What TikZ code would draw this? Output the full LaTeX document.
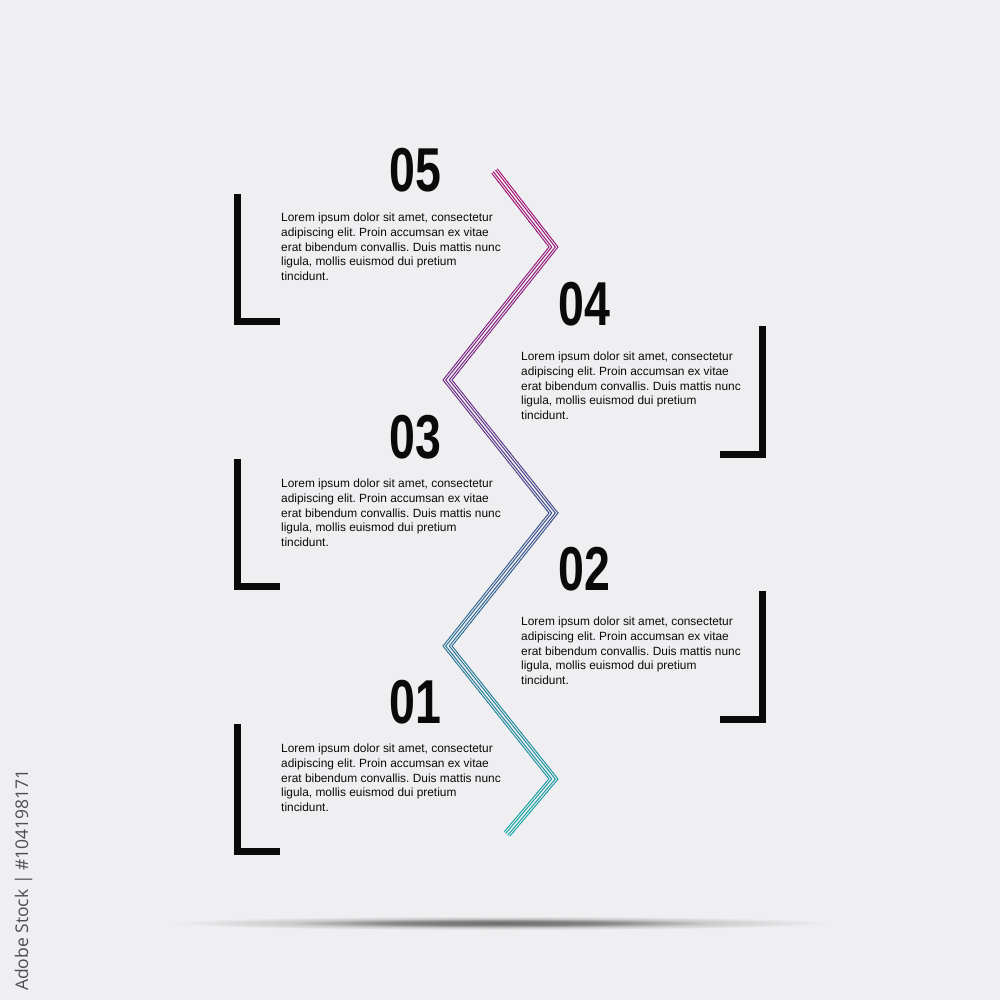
\documentclass[tikz,border=0pt]{standalone}
\usepackage{fontspec}
\setmainfont{Liberation Sans}
\newfontfamily\wmfont{Open Sans}
\frenchspacing
\definecolor{bgc}{RGB}{239,239,241}
\definecolor{ink}{RGB}{10,10,10}
\definecolor{wmgray}{RGB}{78,78,80}
\definecolor{zA}{RGB}{170,15,115}
\definecolor{zB}{RGB}{115,40,135}
\definecolor{zC}{RGB}{60,75,140}
\definecolor{zD}{RGB}{20,170,165}
\pgfdeclareradialshading{floorshadow}{\pgfpoint{0bp}{0bp}}{color(0bp)=(black!55!bgc); color(8bp)=(black!44!bgc); color(16bp)=(black!15!bgc); color(25bp)=(bgc); color(50bp)=(bgc)}
\tikzset{
  numlabel/.style={font=\fontsize{62}{62}\selectfont\bfseries, text=ink, xscale=0.75, anchor=base, inner sep=0pt},
  bodytext/.style={font=\fontsize{11.9}{14.75}\selectfont, text=ink, align=left, inner sep=0pt, anchor=north west},
  bracket/.style={draw=ink, line width=7pt, line join=miter, line cap=butt},
  zzline/.style={line join=miter, line cap=butt, miter limit=10},
}
\begin{document}
\begin{tikzpicture}[x=1pt,y=-1pt]
\fill[bgc] (0,0) rectangle (1000,1000);
\useasboundingbox (0,0) rectangle (1000,1000);

% floor shadow
\begin{scope}
  \clip (0,905) rectangle (1000,940);
  \shade[shading=floorshadow] (500,923) ellipse [x radius=330, y radius=7];
\end{scope}

% zigzag coordinates
\coordinate (z0) at (494.5,171);
\coordinate (z1) at (553.5,247);
\coordinate (z2) at (447.5,380);
\coordinate (z3) at (553.5,513);
\coordinate (z4) at (447.5,646);
\coordinate (z5) at (553.5,779);
\coordinate (z6) at (507,834);

% zigzag with vertical colour gradient (clipped bands)
\foreach \i in {0,...,68}{
  \pgfmathsetmacro{\ya}{162+10*\i}
  \pgfmathsetmacro{\ym}{\ya+5}
  \ifdim \ym pt<380pt
    \pgfmathsetmacro{\zp}{max(0,min(100,(\ym-170)/210*100))}
    \colorlet{zcol}{zB!\zp!zA}
  \else
    \ifdim \ym pt<513pt
      \pgfmathsetmacro{\zp}{(\ym-380)/133*100}
      \colorlet{zcol}{zC!\zp!zB}
    \else
      \pgfmathsetmacro{\zp}{max(0,min(100,(\ym-513)/321*100))}
      \colorlet{zcol}{zD!\zp!zC}
    \fi
  \fi
  \begin{scope}
    \clip (0,\ya) rectangle (1000,\ya+10.6);
    \draw[zzline, zcol, line width=8pt] (z0) -- (z1) -- (z2) -- (z3) -- (z4) -- (z5) -- (z6);
    \draw[zzline, bgc, line width=5.8pt] (z0) -- (z1) -- (z2) -- (z3) -- (z4) -- (z5) -- (z6);
    \draw[zzline, zcol, line width=3.8pt] (z0) -- (z1) -- (z2) -- (z3) -- (z4) -- (z5) -- (z6);
    \draw[zzline, bgc, line width=1.5pt] (z0) -- (z1) -- (z2) -- (z3) -- (z4) -- (z5) -- (z6);
  \end{scope}
}

% brackets
\draw[bracket] (237.5,194) -- (237.5,321.5) -- (280,321.5);
\draw[bracket] (237.5,459) -- (237.5,586.5) -- (280,586.5);
\draw[bracket] (237.5,724) -- (237.5,851.5) -- (280,851.5);
\draw[bracket] (762.5,326) -- (762.5,454.5) -- (720,454.5);
\draw[bracket] (762.5,591) -- (762.5,719.5) -- (720,719.5);

% numbers
\node[numlabel] (n5) at (415.5,192) {05};
\node[numlabel] (n4) at (584,325) {04};
\node[numlabel] (n3) at (415.5,458) {03};
\node[numlabel] (n2) at (584,590) {02};
\node[numlabel] (n1) at (415.5,723) {01};

% texts
\node[bodytext] (t5) at (281,212.9) {Lorem ipsum dolor sit amet, consectetur\\adipiscing elit. Proin accumsan ex vitae\\erat bibendum convallis. Duis mattis nunc\\ligula, mollis euismod dui pretium\\tincidunt.};
\node[bodytext] (t4) at (521,351.9) {Lorem ipsum dolor sit amet, consectetur\\adipiscing elit. Proin accumsan ex vitae\\erat bibendum convallis. Duis mattis nunc\\ligula, mollis euismod dui pretium\\tincidunt.};
\node[bodytext] (t3) at (281,478.9) {Lorem ipsum dolor sit amet, consectetur\\adipiscing elit. Proin accumsan ex vitae\\erat bibendum convallis. Duis mattis nunc\\ligula, mollis euismod dui pretium\\tincidunt.};
\node[bodytext] (t2) at (521,616.9) {Lorem ipsum dolor sit amet, consectetur\\adipiscing elit. Proin accumsan ex vitae\\erat bibendum convallis. Duis mattis nunc\\ligula, mollis euismod dui pretium\\tincidunt.};
\node[bodytext] (t1) at (281,743.9) {Lorem ipsum dolor sit amet, consectetur\\adipiscing elit. Proin accumsan ex vitae\\erat bibendum convallis. Duis mattis nunc\\ligula, mollis euismod dui pretium\\tincidunt.};

% side credit
\node[rotate=90, anchor=base west, inner sep=0pt, font=\wmfont\fontsize{17.5}{17.5}\selectfont, text=wmgray] (credit) at (28,991) {Adobe Stock | \#104198171};
\end{tikzpicture}
\end{document}
